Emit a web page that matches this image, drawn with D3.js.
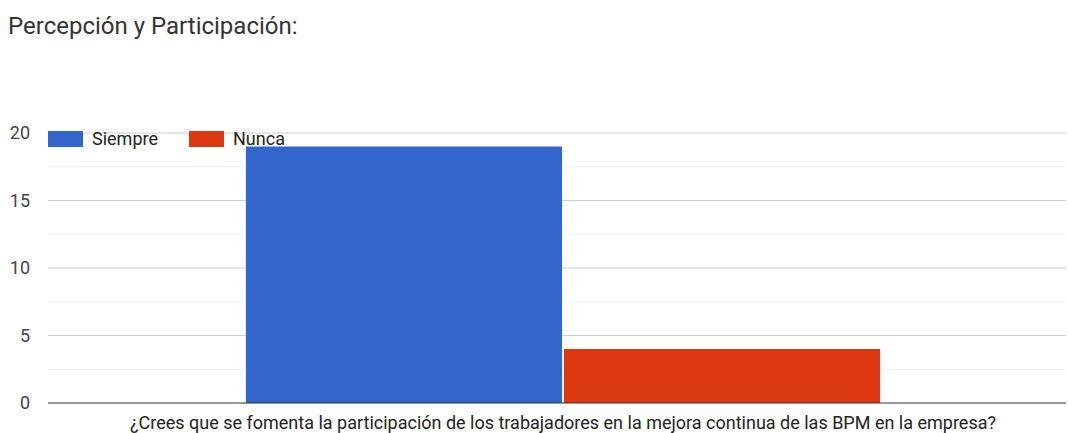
<!DOCTYPE html>
<html>
<head>
<meta charset="utf-8">
<script src="https://cdn.jsdelivr.net/npm/d3@7"></script>
<style>
  body { margin: 0; background: #fff; }
  text { font-family: Roboto, "Liberation Sans", Arial, sans-serif; }
</style>
</head>
<body>
<div id="chart"></div>
<script>
// chart data
var title = "Percepción y Participación:";
var question = "¿Crees que se fomenta la participación de los trabajadores en la mejora continua de las BPM en la empresa?";
var seriesNames = ["Siempre", "Nunca"];
var seriesValues = [19, 4];
var seriesColors = ["#3366cc", "#dc3912"];
var yTicks = [0, 5, 10, 15, 20];

var svgWidth = 1068;
var svgHeight = 433;

var margin = { top: 133, right: 2, bottom: 30, left: 48 };

var svg = d3.select("#chart")
  .append("svg")
  .attr("width", svgWidth)
  .attr("height", svgHeight);

svg.append("text")
  .attr("x", 8)
  .attr("y", 34)
  .attr("font-size", 24)
  .attr("fill", "#333")
  .text(title);

var y = d3.scaleLinear()
  .domain([0, 20])
  .range([svgHeight - margin.bottom, margin.top]);

// outer band for the single question, inner band for series
var x0 = d3.scaleBand()
  .domain([question])
  .range([margin.left, 1078])
  .paddingOuter(0.312)
  .paddingInner(0);

var x1 = d3.scaleBand()
  .domain(seriesNames)
  .range([0, x0.bandwidth()])
  .paddingInner(0.006);

var gridRight = 1066;

// minor gridlines
svg.append("g")
  .selectAll("line")
  .data(d3.range(2.5, 20, 5))
  .enter()
  .append("line")
  .attr("x1", margin.left)
  .attr("x2", gridRight)
  .attr("y1", d => y(d))
  .attr("y2", d => y(d))
  .attr("stroke", "#f0f0f0")
  .attr("stroke-width", 1);

// major gridlines
svg.append("g")
  .selectAll("line")
  .data(yTicks.slice(1))
  .enter()
  .append("line")
  .attr("x1", margin.left)
  .attr("x2", gridRight)
  .attr("y1", d => y(d))
  .attr("y2", d => y(d))
  .attr("stroke", "#cccccc")
  .attr("stroke-width", 1);

// tick labels
svg.append("g")
  .selectAll("text")
  .data(yTicks)
  .enter()
  .append("text")
  .attr("x", 30)
  .attr("y", d => y(d) + 6)
  .attr("text-anchor", "end")
  .attr("font-size", 18)
  .attr("fill", "#444")
  .text(d => d);

// bars
svg.append("g")
  .selectAll("rect")
  .data(seriesNames)
  .enter()
  .append("rect")
  .attr("x", (d, i) => x0(question) + x1(d))
  .attr("y", (d, i) => y(seriesValues[i]))
  .attr("width", x1.bandwidth())
  .attr("height", (d, i) => y(0) - y(seriesValues[i]))
  .attr("fill", (d, i) => seriesColors[i]);

// baseline
svg.append("line")
  .attr("x1", margin.left)
  .attr("x2", gridRight)
  .attr("y1", y(0))
  .attr("y2", y(0))
  .attr("stroke", "#333")
  .attr("stroke-width", 1.2);

// x label
svg.append("text")
  .attr("x", 563)
  .attr("y", 429)
  .attr("text-anchor", "middle")
  .attr("font-size", 18)
  .attr("fill", "#222")
  .text(question);

// legend
var legendX = [48, 189];
var legend = svg.append("g")
  .selectAll("g")
  .data(seriesNames)
  .enter()
  .append("g")
  .attr("transform", (d, i) => `translate(${legendX[i]}, 131)`);

legend.append("rect")
  .attr("width", 35)
  .attr("height", 16)
  .attr("fill", (d, i) => seriesColors[i]);

legend.append("text")
  .attr("x", 44)
  .attr("y", 14)
  .attr("font-size", 18)
  .attr("fill", "#222")
  .text(d => d);
</script>
</body>
</html>
